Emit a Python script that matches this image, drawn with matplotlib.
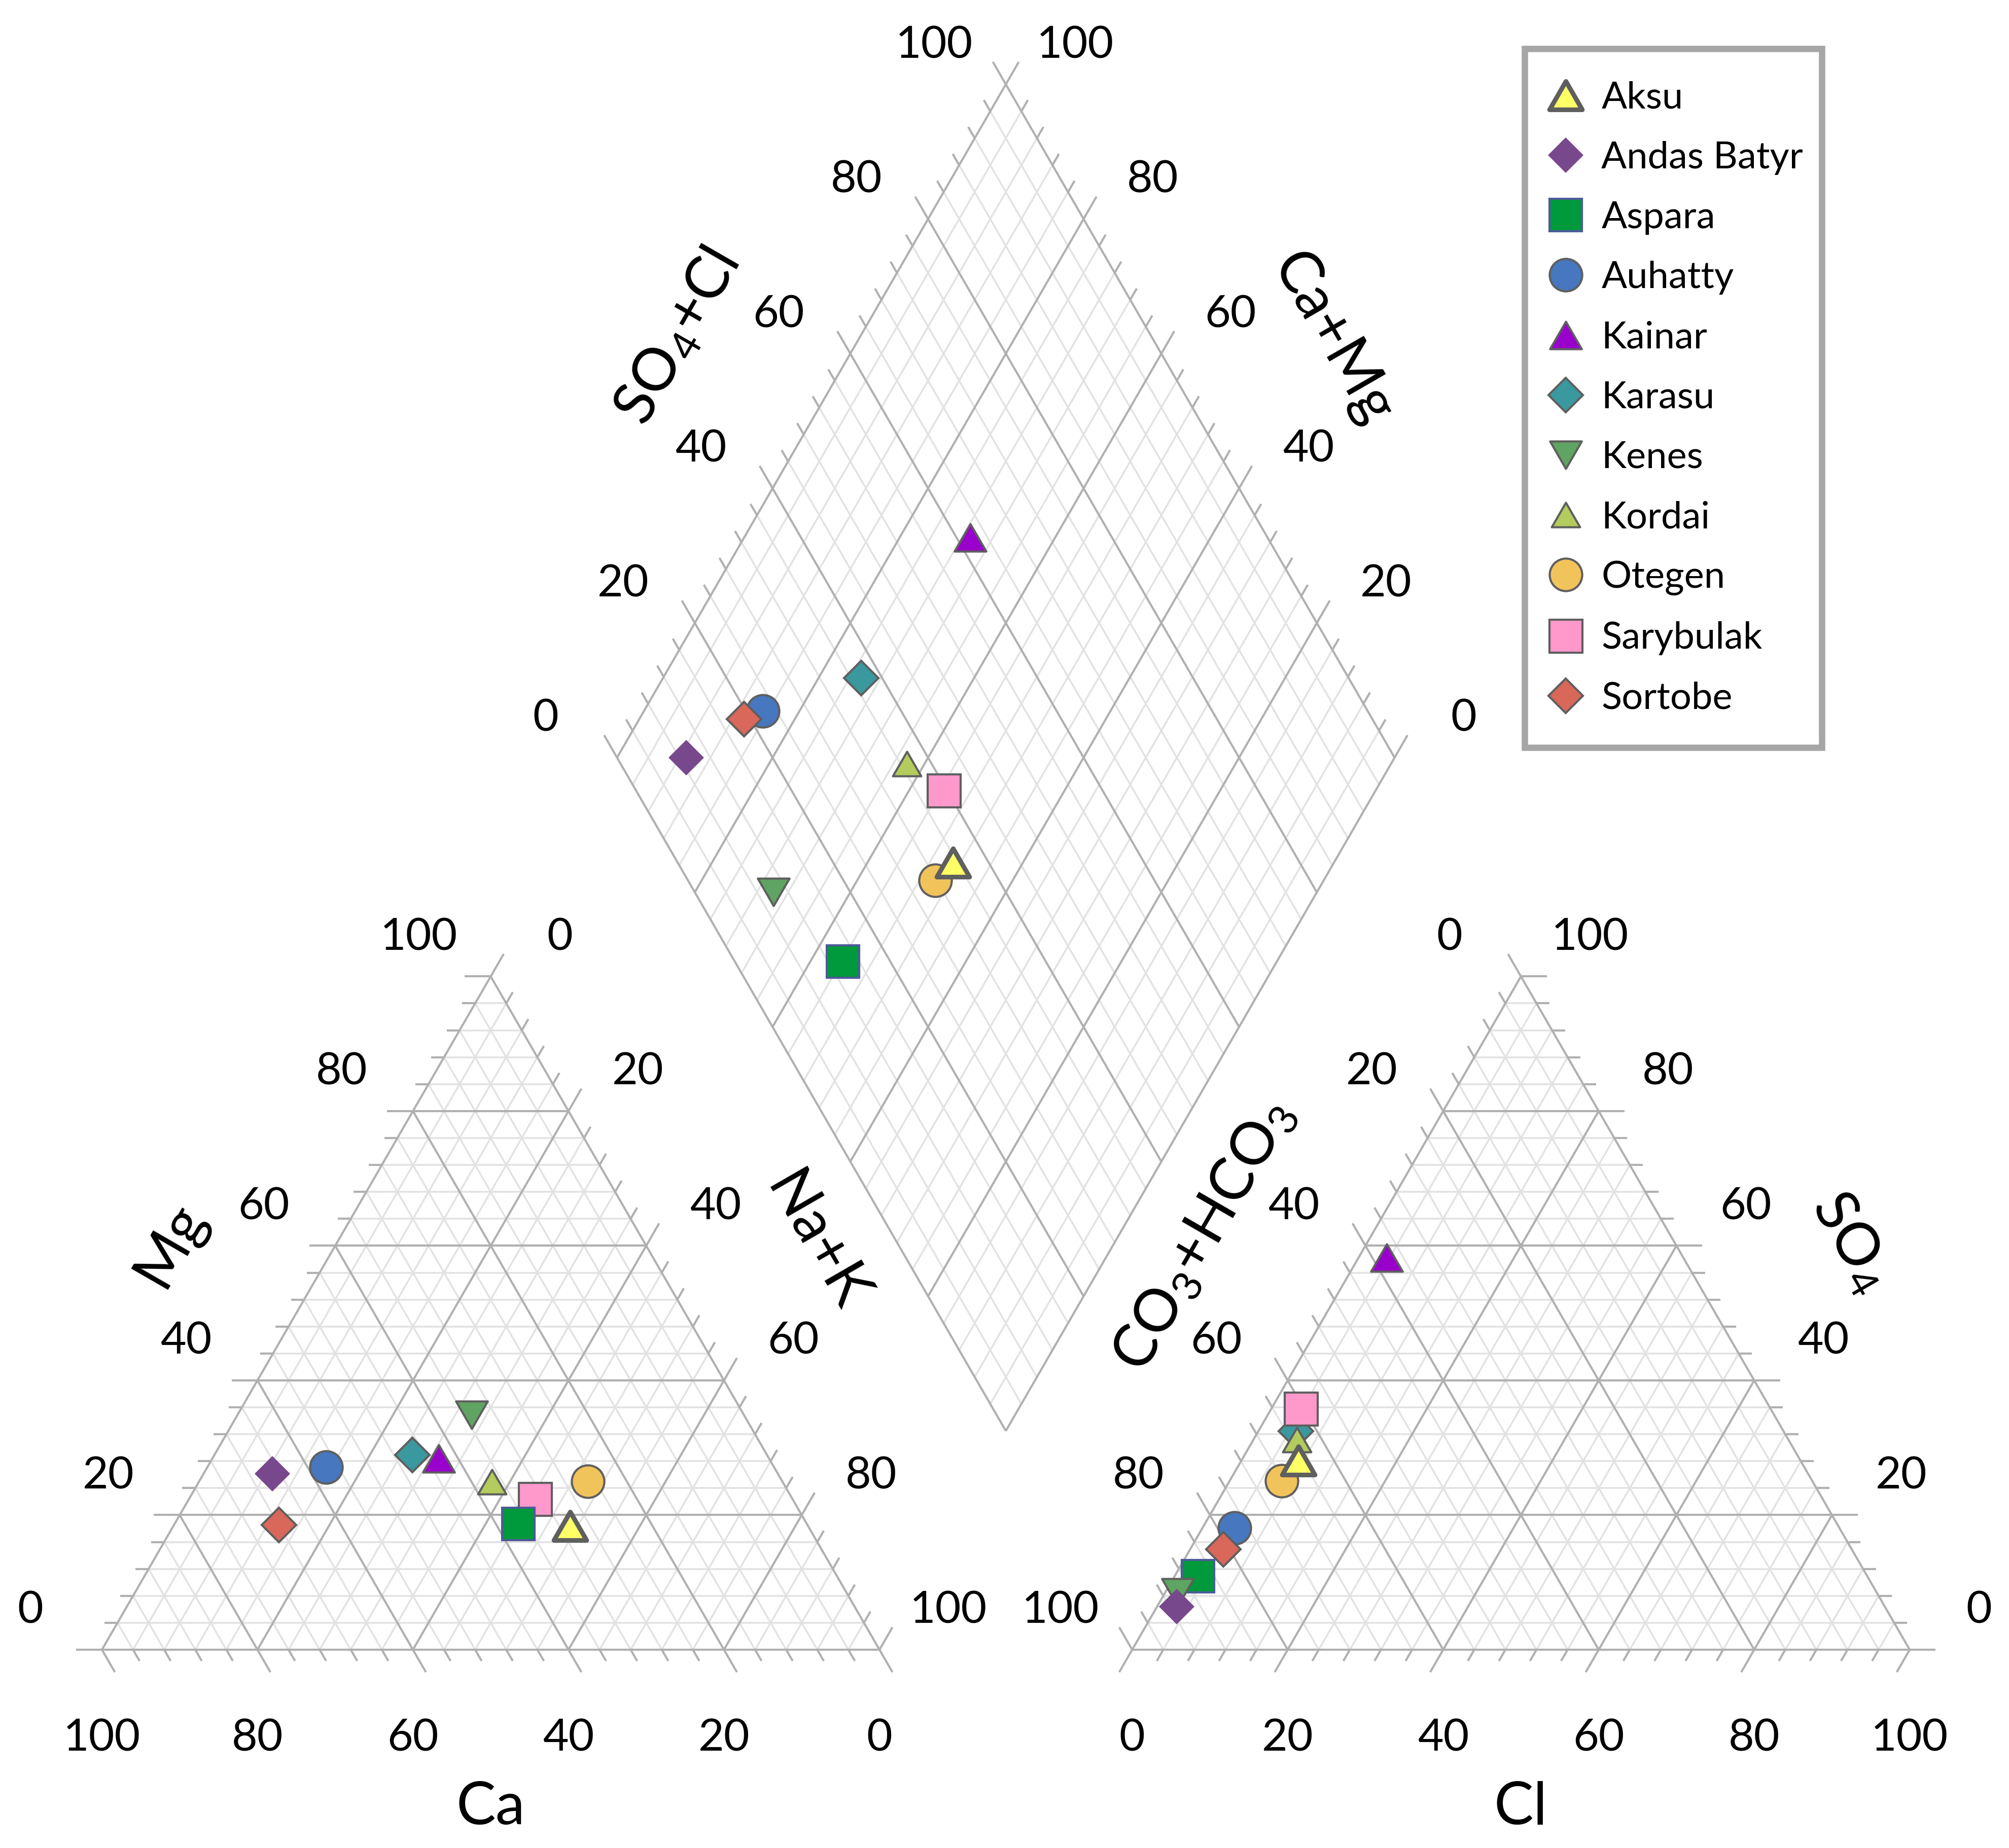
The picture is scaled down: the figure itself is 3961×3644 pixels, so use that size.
import numpy as np
import matplotlib
matplotlib.use("Agg")
import matplotlib.pyplot as plt
from matplotlib.collections import LineCollection
from matplotlib.path import Path

plt.rcParams['font.family'] = ['Lato', 'DejaVu Sans']
plt.rcParams['mathtext.fontset'] = 'custom'
plt.rcParams['mathtext.rm'] = 'Lato'
plt.rcParams['mathtext.it'] = 'Lato:italic'
plt.rcParams['mathtext.bf'] = 'Lato:bold'

# ------------------------------------------------
# data (% meq)
# ------------------------------------------------
sites = ['Aksu', 'Andas Batyr', 'Aspara', 'Auhatty', 'Kainar', 'Karasu',
         'Kenes', 'Kordai', 'Otegen', 'Sarybulak', 'Sortobe']
ca = [30.6, 65.0, 37.1, 57.6, 42.5, 45.6, 35.0, 37.4, 25.0, 33.1, 68.0]
mg = [18.4, 26.1, 18.7, 27.1, 28.4, 28.9, 34.9, 24.9, 25.0, 22.4, 18.5]
nak = [51.0, 8.9, 44.2, 15.3, 29.1, 25.5, 30.1, 37.7, 50.0, 44.5, 13.5]
cl = [7.3, 2.5, 3.0, 4.1, 3.6, 4.8, 1.6, 5.6, 6.7, 3.8, 4.3]
so4 = [28.1, 6.4, 10.9, 18.1, 58.2, 32.5, 8.5, 31.2, 25.1, 35.8, 14.9]
hco3 = [64.6, 91.1, 86.1, 77.8, 38.2, 62.7, 89.9, 63.2, 68.2, 60.4, 80.8]

tick_vals = [0, 20, 40, 60, 80, 100]

# ------------------------------------------------
# marker styles
# ------------------------------------------------
tri_up = Path([(-1, -0.866), (1, -0.866), (0, 0.866), (-1, -0.866)], closed=True)
tri_dn = Path([(-1, 0.866), (1, 0.866), (0, -0.866), (-1, 0.866)], closed=True)
markers = [tri_up, 'D', 's', 'o', tri_up, 'D', tri_dn, tri_up, 'o', 's', 'D']
msizes = [15.5, 11.8, 15.2, 15.4, 15.0, 11.4, 15.0, 13.4, 15.4, 15.6, 11.6]
faces = ['#FFFF66', '#78488C', '#00993C', '#4677BF', '#9900CC', '#3A999F',
         '#5FA462', '#B4CB5D', '#F1C35B', '#FF99CC', '#D9675A']
edges = ['#5F5F5F', '#78488C', '#4E5B99', '#5F5F5F', '#5F5F5F', '#5F5F5F',
         '#5F5F5F', '#5F5F5F', '#5F5F5F', '#5F5F5F', '#5F5F5F']
ewidths = [2.2, 0.0, 1.0, 1.0, 1.0, 1.0, 1.0, 1.0, 1.0, 1.0, 1.0]
zords = [9, 8, 6, 4, 6, 3, 7, 5, 4, 5, 5]

# ------------------------------------------------
# geometry (units = triangle side)
# ------------------------------------------------
W, H, DPI = 3961, 3644, 300
S = 1533.0                 # px per triangle side
X0, Y0 = 201.0, 3253.0     # px of left triangle's bottom-left corner
GAP = 0.325
OX = 1 + GAP
H3 = np.sqrt(3) / 2
BX, BY = 1 + GAP / 2, GAP * H3


def tern(r, t, ox=0.0):
    return (ox + r + t / 2, t * H3)


def dia(cm, sc):
    return (BX + (sc - cm) / 2, BY + (sc + cm) * H3)


fig = plt.figure(figsize=(W / DPI, H / DPI), dpi=DPI)
ax = fig.add_axes([0, 0, 1, 1])
ax.set_xlim(-X0 / S, (W - X0) / S)
ax.set_ylim(-(H - Y0) / S, Y0 / S)
ax.axis('off')

# ------------------------------------------------
# grids, edges and ticks
# ------------------------------------------------
minor, major = [], []
for k in range(0, 101, 4):
    f = k / 100
    segs = major if k % 20 == 0 else minor
    for ox in (0.0, OX):
        segs.append([tern(0, f, ox), tern(1 - f, f, ox)])
        segs.append([tern(f, 0, ox), tern(f, 1 - f, ox)])
        segs.append([tern(1 - f, 0, ox), tern(0, 1 - f, ox)])
    segs.append([dia(f, 0), dia(f, 1)])
    segs.append([dia(0, f), dia(1, f)])

ticks = []
up_r = (0.5, H3)
up_l = (-0.5, H3)
dn_r = (0.5, -H3)
dn_l = (-0.5, -H3)


def tick(p, d, k):
    L = 0.0333 if k % 20 == 0 else 0.0167
    ticks.append([p, (p[0] + d[0] * L, p[1] + d[1] * L)])


for k in range(0, 101, 4):
    f = k / 100
    # cations
    tick(tern(1 - f, 0), dn_r, k)           # Ca
    tick(tern(0, f), (-1, 0), k)            # Mg
    tick(tern(f, 1 - f), up_r, k)           # Na+K
    # anions
    tick(tern(f, 0, OX), dn_l, k)           # Cl
    tick(tern(1 - f, f, OX), (1, 0), k)     # SO4
    tick(tern(0, 1 - f, OX), up_l, k)       # CO3+HCO3
    # diamond
    tick(dia(1, f), up_l, k)                # SO4+Cl
    tick(dia(f, 1), up_r, k)                # Ca+Mg

ax.add_collection(LineCollection(minor, colors='#E2E2E2', linewidths=0.85, zorder=1))
ax.add_collection(LineCollection(major + ticks, colors='#B0B0B0', linewidths=1.0,
                                 zorder=2, capstyle='butt'))

# ------------------------------------------------
# tick labels
# ------------------------------------------------
tfs = 21
lft = (-0.092, 0.05)
rgt = (0.089, 0.05)
bot = (0.0, -0.114)


def lab(p, off, v):
    ax.text(p[0] + off[0], p[1] + off[1], str(v), fontsize=tfs,
            ha='center', va='center')


for v in tick_vals:
    f = v / 100
    lab(tern(1 - f, 0), bot, v)          # Ca
    lab(tern(0, f), lft, v)              # Mg
    lab(tern(f, 1 - f), rgt, v)          # Na+K
    lab(tern(f, 0, OX), bot, v)          # Cl
    lab(tern(1 - f, f, OX), rgt, v)      # SO4
    lab(tern(0, 1 - f, OX), lft, v)      # CO3+HCO3
    lab(dia(1, f), lft, v)               # SO4+Cl
    lab(dia(f, 1), rgt, v)               # Ca+Mg

# ------------------------------------------------
# axis titles
# ------------------------------------------------
afs = 28
ax.text(0.5, -0.2035, 'Ca', fontsize=afs, ha='center', va='center')
ax.text(OX + 0.5, -0.2035, 'Cl', fontsize=afs, ha='center', va='center')
ax.text(0.088, 0.521, 'Mg', fontsize=afs, ha='center', va='center',
        rotation=60, rotation_mode='anchor')
ax.text(0.918, 0.524, 'Na+K', fontsize=afs, ha='center', va='center',
        rotation=-60, rotation_mode='anchor')
ax.text(OX + 0.0925, 0.532, r'CO$_\mathregular{3}$+HCO$_\mathregular{3}$', fontsize=afs,
        ha='center', va='center', rotation=60, rotation_mode='anchor')
ax.text(OX + 0.925, 0.524, r'SO$_\mathregular{4}$', fontsize=afs, ha='center', va='center',
        rotation=-60, rotation_mode='anchor')
ax.text(BX - 0.4225, 1.688, r'SO$_\mathregular{4}$+Cl', fontsize=afs, ha='center',
        va='center', rotation=60, rotation_mode='anchor')
ax.text(BX + 0.42, 1.686, 'Ca+Mg', fontsize=afs, ha='center', va='center',
        rotation=-60, rotation_mode='anchor')

# ------------------------------------------------
# samples: cation point, anion point, diamond point
# ------------------------------------------------
for i, name in enumerate(sites):
    p1 = tern(nak[i] / 100, mg[i] / 100)
    p2 = tern(cl[i] / 100, so4[i] / 100, OX)
    p3 = dia((ca[i] + mg[i]) / 100, (so4[i] + cl[i]) / 100)
    xs = [p1[0], p2[0], p3[0]]
    ys = [p1[1], p2[1], p3[1]]
    ax.plot(xs, ys, linestyle='none', marker=markers[i], markersize=msizes[i],
            markerfacecolor=faces[i], markeredgecolor=edges[i],
            markeredgewidth=ewidths[i], label=name, zorder=zords[i])

leg = ax.legend(loc='upper left',
                bbox_to_anchor=(3006 / W, 1 - 1473 / H, (3592 - 3006) / W, (1473 - 96) / H),
                bbox_transform=fig.transFigure, mode='expand', borderaxespad=0,
                fontsize=17.8, frameon=True, fancybox=False, edgecolor='#A6A6A6',
                framealpha=1, borderpad=0.86, labelspacing=0.69,
                handlelength=0.46, handletextpad=0.72, numpoints=1)
leg.get_frame().set_linewidth(3.0)

fig.savefig('out.png', dpi=DPI)
